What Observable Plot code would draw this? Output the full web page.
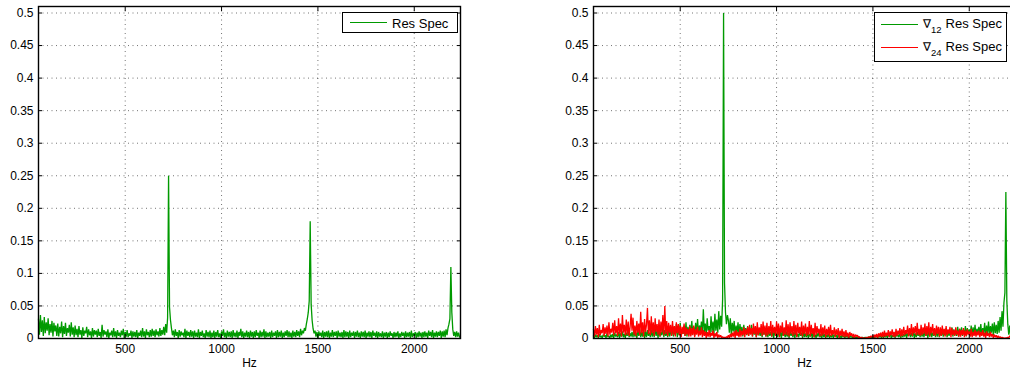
<!DOCTYPE html>
<html>
<head>
<meta charset="utf-8">
<script src="https://cdn.jsdelivr.net/npm/d3@7"></script>
<script src="https://cdn.jsdelivr.net/npm/@observablehq/plot@0.6"></script>
<style>
  html, body { margin: 0; padding: 0; background: #fff; }
  #page { position: relative; width: 1010px; height: 376px; overflow: hidden; font-family: "Liberation Sans", Arial, Helvetica, sans-serif; }
  .panel { position: absolute; top: 0; width: 480px; height: 376px; }
  .panel svg { max-width: none !important; display: block; }
  .legend { position: absolute; background: #fff; border: 1px solid #000; box-sizing: border-box; }
  .entry { position: absolute; font-size: 13px; line-height: 13px; white-space: nowrap; color: #000; }
  .swatch { position: absolute; height: 1px; }
  .sym { font-family: "DejaVu Sans", sans-serif; font-size: 12px; }
  .sub { font-size: 9.5px; position: relative; top: 5px; margin-right: 4px; }
</style>
</head>
<body>
<div id="page">
  <div id="left" class="panel" style="left:0px"></div>
  <div id="right" class="panel" style="left:555px"></div>

  <div class="legend" style="left:342px; top:12px; width:116px; height:21px;"></div>
  <div class="swatch" style="left:350px; top:22px; width:37px; background:#009a00;"></div>
  <div class="entry" style="left:392px; top:17px;">Res Spec</div>

  <div class="legend" style="left:874px; top:12px; width:133px; height:50px;"></div>
  <div class="swatch" style="left:881px; top:24px; width:37px; background:#009a00;"></div>
  <div class="entry" style="left:923px; top:17px;"><span class="sym">∇</span><span class="sub">12</span>Res Spec</div>
  <div class="swatch" style="left:881px; top:47px; width:37px; background:#ff0000;"></div>
  <div class="entry" style="left:923px; top:40px;"><span class="sym">∇</span><span class="sub">24</span>Res Spec</div>
</div>
<script>
// Frequency bins: 50 Hz to 2235 Hz in 5 Hz steps
const f0 = 50;
const df = 5;

// Amplitudes in thousandths, one row per 100 Hz
const resSpec = [
  30,6,36,10,28,4,33,8,25,12,31,5,22,9,27,3,24,11,20,4,
  23,3,18,8,26,2,19,7,24,4,16,9,21,3,25,6,17,2,20,5,
  15,2,19,6,13,1,17,4,12,8,18,2,14,5,11,1,16,3,13,6,
  12,2,15,4,10,1,21,3,13,6,11,2,14,1,9,5,12,2,16,3,
  11,1,13,4,9,2,12,5,15,1,10,3,13,2,8,4,12,1,11,3,
  10,2,13,1,9,4,12,2,16,3,11,1,14,5,10,2,13,3,15,4,
  12,2,14,5,11,3,16,4,13,6,18,5,22,9,32,250,48,28,16,5,
  12,2,14,4,10,1,13,3,11,5,9,2,15,1,12,4,10,2,13,3,
  11,1,12,3,9,2,14,1,10,4,12,2,8,1,13,3,10,2,12,1,
  9,2,12,1,10,3,13,2,8,1,11,4,14,2,9,1,12,3,10,2,
  11,1,13,3,9,2,12,1,10,4,15,2,11,1,9,3,12,2,10,1,
  12,3,10,1,11,2,13,4,9,1,12,2,10,3,14,1,11,2,9,3,
  10,1,12,2,9,4,11,1,13,2,10,3,12,1,9,2,11,4,13,2,
  11,2,9,1,12,3,10,2,13,4,11,2,15,5,12,8,16,12,22,30,
  40,58,180,52,28,15,8,12,3,10,1,11,4,9,2,12,1,10,3,11,
  2,12,1,9,3,13,2,10,4,11,1,12,3,9,2,10,1,13,2,11,
  3,10,1,12,2,9,4,11,1,10,3,12,2,9,1,11,3,10,2,12,
  1,9,3,11,2,10,1,12,4,9,2,11,1,10,3,8,2,11,1,9,
  3,10,1,9,2,11,4,8,1,10,2,9,3,11,1,8,2,10,4,9,
  1,11,2,9,3,10,1,12,2,8,4,10,1,9,2,11,3,9,1,10,
  2,11,3,9,1,12,4,10,2,13,1,9,3,11,2,10,4,12,1,11,
  3,12,2,14,5,16,22,30,110,40,14,4,10,2,11,3,9,2
];

const diff12 = [
  4,1,6,2,5,1,7,2,4,1,6,3,5,1,8,2,4,1,6,2,
  7,1,9,3,6,2,10,1,8,3,11,2,7,1,9,4,12,2,8,3,
  10,2,13,3,9,1,12,4,14,2,10,3,15,1,11,2,13,4,9,2,
  14,3,11,2,16,4,12,1,15,3,10,5,17,2,13,4,11,2,16,3,
  15,4,19,3,13,6,22,2,17,5,24,3,14,7,20,4,25,3,18,6,
  21,5,27,8,18,4,24,9,30,6,20,11,26,7,45,10,23,6,31,12,
  19,8,34,10,26,7,38,12,29,9,42,14,35,18,60,500,85,40,22,36,
  28,9,31,6,24,11,27,5,20,8,25,4,22,10,18,3,21,7,16,5,
  19,4,15,7,21,3,16,6,13,2,17,5,12,4,15,2,11,6,14,3,
  12,2,15,4,10,3,13,1,11,5,9,2,14,3,10,1,12,4,8,2,
  11,3,9,1,12,4,8,2,10,1,13,3,7,2,11,4,9,1,10,2,
  8,2,10,1,7,3,9,1,11,2,6,1,8,3,10,2,7,1,9,2,
  7,1,6,2,8,1,5,2,7,1,6,3,5,1,7,2,4,1,6,2,
  4,1,5,2,3,1,4,2,3,1,2,3,1,2,1,3,2,1,1,2,
  1,1,2,1,2,1,3,1,2,1,4,1,3,2,4,1,5,2,4,1,
  6,1,5,2,7,1,6,3,8,1,5,2,9,1,7,3,6,2,8,1,
  9,2,7,3,10,1,8,4,11,2,9,3,12,1,8,2,10,4,9,2,
  11,3,9,2,13,4,10,1,12,3,14,2,9,4,11,2,13,3,15,2,
  12,4,14,3,10,5,16,2,13,4,11,6,17,3,14,5,12,4,18,3,
  15,5,17,4,13,6,19,3,16,7,14,5,20,4,17,6,21,5,15,7,
  18,6,22,5,16,8,24,4,20,7,26,6,19,9,23,5,25,8,21,7,
  27,9,33,12,42,18,55,70,225,58,22,6,20,4,18,7,21,5
];

const diff24 = [
  14,3,19,6,16,2,21,5,13,8,22,4,17,7,20,3,25,6,15,9,
  24,5,28,8,19,4,31,7,23,3,36,9,21,5,29,6,26,4,18,38,
  12,32,6,20,4,27,9,23,5,41,8,25,3,30,10,21,47,7,28,5,
  34,8,25,4,31,10,22,6,29,3,26,9,36,5,50,7,27,4,24,9,
  21,4,27,6,19,3,25,8,22,5,20,2,18,7,23,4,17,6,15,3,
  19,3,16,5,20,2,14,6,18,3,12,5,17,2,13,4,11,1,10,3,
  13,2,9,4,12,1,8,3,10,1,6,2,5,1,3,1,2,1,3,1,
  5,1,7,2,9,3,11,1,13,4,10,2,15,3,12,5,17,2,14,6,
  18,4,21,6,16,3,23,7,19,2,25,5,17,8,22,4,26,6,20,3,
  24,5,19,7,27,3,21,8,18,4,26,6,23,2,20,9,25,4,17,6,
  28,5,22,3,25,7,19,4,27,6,21,2,24,8,18,5,26,3,20,7,
  23,4,18,6,27,3,21,7,16,2,24,5,19,8,15,3,22,4,17,6,
  20,2,15,5,18,3,21,4,13,6,17,2,14,5,16,1,12,4,15,3,
  11,2,13,3,9,1,10,4,8,2,7,1,6,3,5,1,3,1,2,1,
  1,0,1,1,2,1,3,1,4,2,5,1,6,2,7,1,8,3,9,2,
  10,2,12,3,9,4,13,2,11,5,14,3,10,2,15,4,12,6,16,3,
  14,4,18,5,13,7,20,3,16,6,22,4,17,8,19,5,24,6,15,4,
  21,5,17,7,23,4,19,6,25,3,18,8,22,5,16,4,20,7,18,3,
  17,4,20,6,15,3,19,5,14,7,18,2,16,5,13,4,17,6,12,3,
  15,3,13,5,16,2,12,4,14,6,11,3,15,2,10,4,13,3,11,5,
  12,2,10,4,13,3,9,1,11,4,8,2,10,3,7,1,6,2,5,1,
  4,1,3,1,2,1,1,0,1,1,2,1,4,2,5,1,6,3
];

const xTicks = [500, 1000, 1500, 2000];
const yTicks = [0, 0.05, 0.1, 0.15, 0.2, 0.25, 0.3, 0.35, 0.4, 0.45, 0.5];
const xDomain = [50, 2240];
const yDomain = [0, 0.51];
const green = "#009a00";
const red = "#ff0000";

for (const s of [resSpec, diff12, diff24]) {
  if (s.length !== 438) throw new Error("series length " + s.length);
}

const toRows = (vals) => vals.map((v, i) => ({f: f0 + i * df, a: v / 1000}));

const fmtX = (d) => String(d);
const fmtY = (d) => String(+d.toFixed(2));
const noText = () => "";

function panel(series) {
  const lines = series.map(([vals, color]) =>
    Plot.line(toRows(vals), {x: "f", y: "a", stroke: color, strokeWidth: 1.3, strokeLinejoin: "miter"})
  );
  return Plot.plot({
    width: 480,
    height: 376,
    marginLeft: 38,
    marginRight: 20,
    marginTop: 6,
    marginBottom: 38,
    x: {domain: xDomain, label: null},
    y: {domain: yDomain, label: null},
    style: {fontFamily: "'Liberation Sans', Arial, Helvetica, sans-serif", fontSize: "12px", color: "#000", background: "transparent", overflow: "visible"},
    marks: [
      Plot.gridX(xTicks, {stroke: "#000", strokeOpacity: 0.55, strokeDasharray: "1,3.5"}),
      Plot.gridY(yTicks.slice(1), {stroke: "#000", strokeOpacity: 0.55, strokeDasharray: "1,3.5"}),
      ...lines,
      Plot.frame({stroke: "#000", strokeWidth: 1.4}),
      // tick labels
      Plot.axisX(xTicks, {anchor: "bottom", tickSize: 0, tickPadding: 6, tickFormat: fmtX, label: null}),
      Plot.axisY(yTicks, {anchor: "left", tickSize: 0, tickPadding: 5, tickFormat: fmtY, label: null}),
      // inward tick marks on all four sides
      Plot.axisX(xTicks, {anchor: "bottom", tickSize: -4, tickFormat: noText, label: null}),
      Plot.axisX(xTicks, {anchor: "top", tickSize: -4, tickFormat: noText, label: null}),
      Plot.axisY(yTicks, {anchor: "left", tickSize: -4, tickFormat: noText, label: null}),
      Plot.axisY(yTicks, {anchor: "right", tickSize: -4, tickFormat: noText, label: null}),
      Plot.text(["Hz"], {text: (d) => d, frameAnchor: "bottom", dy: 28, fontSize: 12})
    ]
  });
}

document.getElementById("left").append(panel([[resSpec, green]]));
document.getElementById("right").append(panel([[diff12, green], [diff24, red]]));
</script>
</body>
</html>
